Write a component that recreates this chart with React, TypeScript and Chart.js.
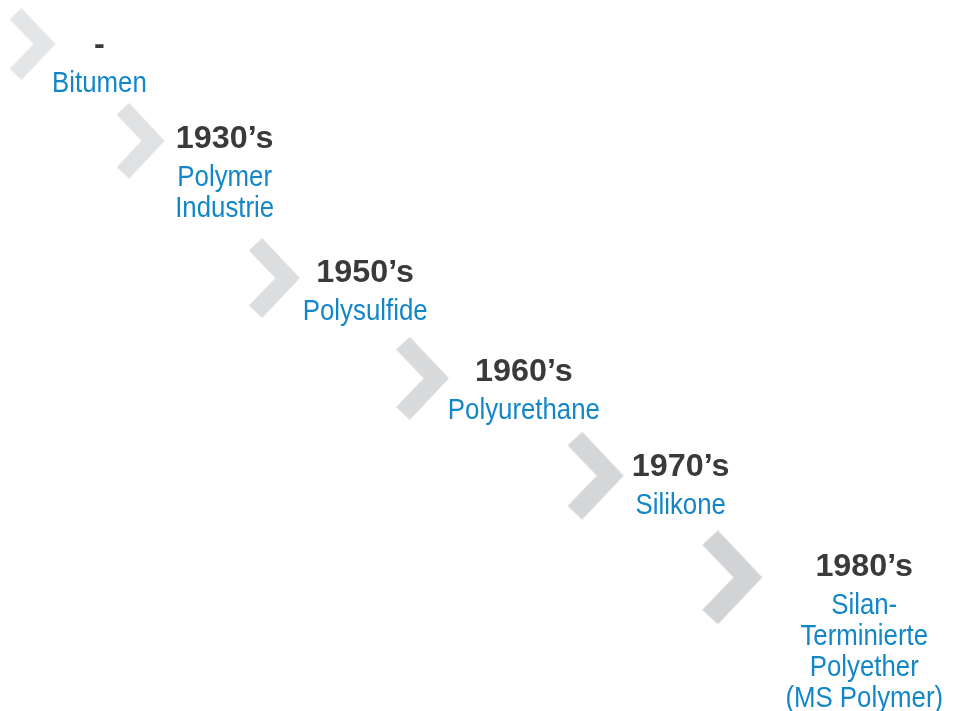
import React, { useEffect, useRef } from "react";
import { Chart, registerables } from "chart.js";

Chart.register(...registerables);

// ---- data ----
const years = ["-", "1930’s", "1950’s", "1960’s", "1970’s", "1980’s"];
const materials: string[][] = [
  ["Bitumen"],
  ["Polymer", "Industrie"],
  ["Polysulfide"],
  ["Polyurethane"],
  ["Silikone"],
  ["Silan-", "Terminierte", "Polyether", "(MS Polymer)"],
];
// marker positions on the timeline (percent of width / height)
const markerX = [3.4, 14.7, 28.7, 44.2, 62.3, 76.6];
const markerY = [6.2, 19.8, 39.1, 53.2, 66.9, 81.2];
// label anchor positions (percent of width / height)
const labelX = [10.4, 23.5, 38.2, 54.8, 71.2, 90.4];
const labelY = [7.6, 20.8, 39.7, 53.6, 67.0, 81.0];

// ---- styles ----
const chevronHeights = [72, 76, 80, 83, 88, 94];
const chevronColors = ["#e4e5e7", "#e0e1e3", "#dcdddf", "#d9dadc", "#d5d6d8", "#d2d3d5"];
const YEAR_COLOR = "#3a3a3a";
const MATERIAL_COLOR = "#1386c8";

function makeChevron(h: number, color: string): HTMLCanvasElement {
  const w = Math.round(h * 0.635);
  const m = h / 2;
  const c = document.createElement("canvas");
  c.width = w;
  c.height = h;
  const g = c.getContext("2d")!;
  g.beginPath();
  g.moveTo(0.26 * w, 0);
  g.lineTo(w, m);
  g.lineTo(0.26 * w, h);
  g.lineTo(0, h - 0.155 * h);
  g.lineTo(0.52 * w, m);
  g.lineTo(0, 0.155 * h);
  g.closePath();
  g.fillStyle = color;
  g.fill();
  return c;
}

function drawScaled(ctx: CanvasRenderingContext2D, text: string, x: number, y: number, sx: number) {
  ctx.save();
  ctx.translate(x, y);
  ctx.scale(sx, 1);
  ctx.fillText(text, 0, 0);
  ctx.restore();
}

const labelPlugin = {
  id: "timelineLabels",
  afterDatasetsDraw(chart: any) {
    const { ctx, scales } = chart;
    const xs = scales.x;
    const ys = scales.y;
    years.forEach((yr, i) => {
      const px = xs.getPixelForValue(labelX[i]);
      const py = ys.getPixelForValue(labelY[i]);
      ctx.save();
      ctx.textAlign = "center";
      ctx.textBaseline = "alphabetic";
      ctx.fillStyle = YEAR_COLOR;
      ctx.font = "bold 32px 'Liberation Sans'";
      drawScaled(ctx, yr, px, py, 1.01);
      ctx.fillStyle = MATERIAL_COLOR;
      ctx.font = "30px 'Liberation Sans'";
      materials[i].forEach((line, j) => drawScaled(ctx, line, px, py + 38 + j * 31, 0.86));
      ctx.restore();
    });
  },
};

export default function App() {
  const ref = useRef<HTMLCanvasElement | null>(null);
  useEffect(() => {
    document.body.style.margin = "0";
    if (!ref.current) return;
    const chevrons = chevronHeights.map((h, i) => makeChevron(h, chevronColors[i]));
    const chart = new Chart(ref.current, {
      type: "scatter",
      data: {
        labels: years,
        datasets: [
          {
            data: markerX.map((x, i) => ({ x, y: markerY[i] })),
            pointStyle: chevrons as any,
            pointRadius: 20,
            pointHoverRadius: 20,
            showLine: false,
          } as any,
        ],
      },
      options: {
        animation: false,
        responsive: false,
        events: [],
        layout: { padding: 0, autoPadding: false },
        plugins: { legend: { display: false }, tooltip: { enabled: false } },
        scales: {
          x: { type: "linear", min: 0, max: 100, display: false },
          y: { type: "linear", min: 0, max: 100, reverse: true, display: false },
        },
      },
      plugins: [labelPlugin],
    });
    return () => chart.destroy();
  }, []);
  return (
    <div style={{ width: 956, height: 711, background: "#fff" }}>
      <canvas ref={ref} width={956} height={711} style={{ display: "block" }} />
    </div>
  );
}
